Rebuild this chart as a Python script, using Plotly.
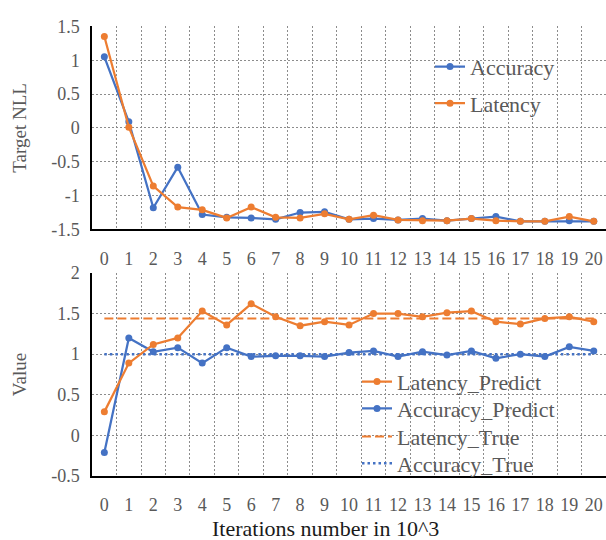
import plotly.graph_objects as go

# ---- data ----
iterations = list(range(21))
x_tick_labels = [str(i) for i in iterations]

nll_accuracy = [1.05, 0.09, -1.18, -0.58, -1.28, -1.32, -1.33, -1.35, -1.25, -1.24,
                -1.35, -1.34, -1.36, -1.34, -1.37, -1.34, -1.31, -1.38, -1.38, -1.37, -1.38]
nll_latency = [1.35, 0.01, -0.86, -1.17, -1.21, -1.33, -1.17, -1.32, -1.33, -1.27,
               -1.35, -1.29, -1.36, -1.37, -1.37, -1.34, -1.37, -1.38, -1.38, -1.31, -1.38]

latency_predict = [0.29, 0.89, 1.12, 1.20, 1.53, 1.36, 1.62, 1.46, 1.35, 1.40,
                   1.36, 1.50, 1.50, 1.46, 1.51, 1.53, 1.40, 1.37, 1.44, 1.46, 1.40]
accuracy_predict = [-0.21, 1.20, 1.03, 1.08, 0.89, 1.08, 0.97, 0.98, 0.98, 0.97,
                    1.02, 1.04, 0.97, 1.03, 0.99, 1.04, 0.95, 1.00, 0.97, 1.09, 1.04]
latency_true = [1.44] * 21
accuracy_true = [1.0] * 21

top_y_ticks = [1.5, 1, 0.5, 0, -0.5, -1, -1.5]
top_y_labels = ["1.5", "1", "0.5", "0", "-0.5", "-1", "-1.5"]
bot_y_ticks = [2, 1.5, 1, 0.5, 0, -0.5]
bot_y_labels = ["2", "1.5", "1", "0.5", "0", "-0.5"]
grid_bounds = [i + 0.5 for i in iterations[:-1]]

BLUE = "#4472C4"
ORANGE = "#ED7D31"
TXT = "#595959"
GRID = "#8C8C8C"
FONT = "Liberation Serif, Times New Roman, serif"
W, H = 606, 540

fig = go.Figure()

mk = dict(size=7)
fig.add_trace(go.Scatter(x=iterations, y=nll_accuracy, name="Accuracy", mode="lines+markers",
                         line=dict(color=BLUE, width=2.25), marker=dict(color=BLUE, **mk),
                         xaxis="x", yaxis="y", legend="legend"))
fig.add_trace(go.Scatter(x=iterations, y=nll_latency, name="Latency", mode="lines+markers",
                         line=dict(color=ORANGE, width=2.25), marker=dict(color=ORANGE, **mk),
                         xaxis="x", yaxis="y", legend="legend2"))

fig.add_trace(go.Scatter(x=iterations, y=latency_true, name="Latency_True", mode="lines",
                         line=dict(color=ORANGE, width=2, dash="9px,4px"),
                         xaxis="x2", yaxis="y2", legend="legend5"))
fig.add_trace(go.Scatter(x=iterations, y=accuracy_true, name="Accuracy_True", mode="lines",
                         line=dict(color=BLUE, width=2.5, dash="2.5px,3px"),
                         xaxis="x2", yaxis="y2", legend="legend6"))
fig.add_trace(go.Scatter(x=iterations, y=accuracy_predict, name="Accuracy_Predict", mode="lines+markers",
                         line=dict(color=BLUE, width=2.25), marker=dict(color=BLUE, **mk),
                         xaxis="x2", yaxis="y2", legend="legend4"))
fig.add_trace(go.Scatter(x=iterations, y=latency_predict, name="Latency_Predict", mode="lines+markers",
                         line=dict(color=ORANGE, width=2.25), marker=dict(color=ORANGE, **mk),
                         xaxis="x2", yaxis="y2", legend="legend3"))

xcommon = dict(range=[-0.5, 20.5], tickvals=iterations, ticktext=x_tick_labels,
               showgrid=False, zeroline=False, showline=True, linecolor="black", linewidth=1.5,
               ticks="", ticklabelstandoff=12,
               tickfont=dict(family=FONT, size=18, color=TXT),
               minor=dict(tickvals=grid_bounds, showgrid=True, gridcolor=GRID,
                          griddash="2px,2px", gridwidth=1, ticks=""),
               domain=[0.152, 1.0], fixedrange=True)
ycommon = dict(showgrid=True, gridcolor=GRID, griddash="2px,2px", gridwidth=1,
               zeroline=False, showline=True, linecolor="black", linewidth=1.5,
               ticks="", ticklabelstandoff=7,
               tickfont=dict(family=FONT, size=18, color=TXT))


def leg(x_px, y_px):
    return dict(x=x_px / W, y=1 - y_px / H, xanchor="left", yanchor="middle",
                bgcolor="rgba(0,0,0,0)", font=dict(family=FONT, size=22, color=TXT),
                itemwidth=30, borderwidth=0)


fig.update_layout(
    width=W, height=H,
    margin=dict(l=0, r=0, t=0, b=0),
    paper_bgcolor="white", plot_bgcolor="white",
    font=dict(family=FONT, color=TXT),
    xaxis=dict(anchor="y", **xcommon),
    xaxis2=dict(anchor="y2", **xcommon),
    yaxis=dict(domain=[0.578, 0.9685], range=[-1.5, 1.5], tickvals=top_y_ticks, ticktext=top_y_labels,
               title=dict(text="Target NLL", font=dict(family=FONT, size=19, color=TXT), standoff=20),
               anchor="x", **ycommon),
    yaxis2=dict(domain=[0.1037, 0.4944], range=[-0.5, 2], tickvals=bot_y_ticks, ticktext=bot_y_labels,
                title=dict(text="Value", font=dict(family=FONT, size=19, color=TXT), standoff=20),
                anchor="x2", **ycommon),
    legend=leg(430, 59),
    legend2=leg(430, 97),
    legend3=leg(357, 386),
    legend4=leg(357, 414),
    legend5=leg(357, 443),
    legend6=leg(357, 471),
    showlegend=True,
    annotations=[dict(text="Iterations number in 10^3", x=325 / W, y=1 - 538 / H,
                      xref="paper", yref="paper", xanchor="center", yanchor="middle",
                      showarrow=False, font=dict(family=FONT, size=22, color="#1a1a1a"))],
)

fig.write_html("out.html")
